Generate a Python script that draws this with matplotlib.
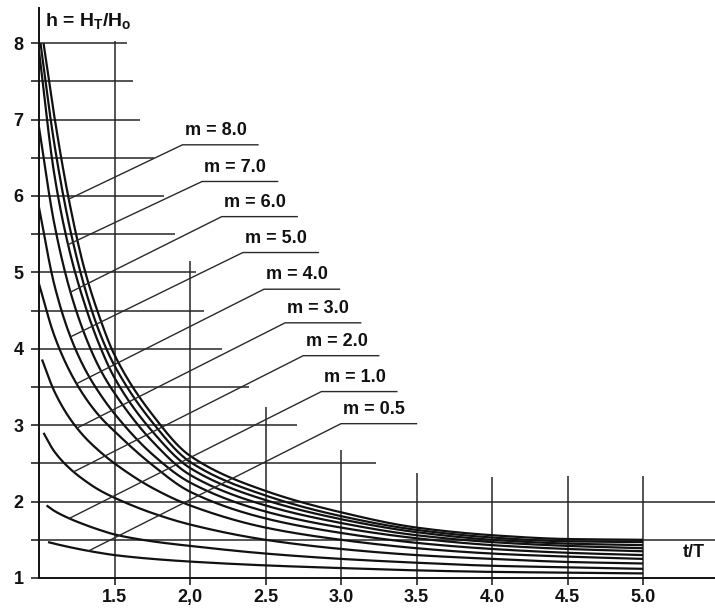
import numpy as np
import matplotlib
matplotlib.use("Agg")
import matplotlib.pyplot as plt

plt.rcParams['font.family'] = ['Liberation Sans', 'DejaVu Sans']
plt.rcParams['font.weight'] = 'bold'
plt.rcParams['mathtext.fontset'] = 'custom'
plt.rcParams['mathtext.rm'] = 'Liberation Sans:bold'
plt.rcParams['mathtext.bf'] = 'Liberation Sans:bold'

# t/T sample points shared by all curves (after each curve's own start point)
t_common = [1.1, 1.2, 1.3, 1.4, 1.5, 1.75, 2.0, 2.5, 3.0, 3.5, 4.0, 4.5, 5.0]

# start points (t, h) where each curve enters the chart
start_t = [1.06, 1.05, 1.03, 1.02, 1.0, 1.0, 1.0, 1.0, 1.01, 1.03]
start_h = [1.47, 1.95, 2.90, 3.86, 4.85, 5.85, 6.90, 7.90, 8.00, 8.00]

h_m05 = [1.45, 1.405, 1.365, 1.33, 1.30, 1.25, 1.215, 1.165, 1.13, 1.10, 1.08, 1.07, 1.06]
h_m1 = [1.88, 1.78, 1.70, 1.63, 1.57, 1.48, 1.42, 1.32, 1.25, 1.20, 1.16, 1.14, 1.12]
h_m2 = [2.66, 2.44, 2.28, 2.15, 2.05, 1.85, 1.70, 1.50, 1.38, 1.30, 1.25, 1.21, 1.19]
h_m3 = [3.45, 3.10, 2.85, 2.66, 2.50, 2.18, 1.95, 1.66, 1.50, 1.39, 1.32, 1.28, 1.25]
h_m4 = [4.18, 3.72, 3.38, 3.12, 2.92, 2.48, 2.13, 1.78, 1.59, 1.46, 1.38, 1.33, 1.30]
h_m5 = [4.85, 4.20, 3.75, 3.42, 3.15, 2.62, 2.25, 1.87, 1.66, 1.52, 1.43, 1.38, 1.35]
h_m6 = [5.65, 4.80, 4.20, 3.75, 3.42, 2.79, 2.35, 1.95, 1.72, 1.56, 1.47, 1.42, 1.39]
h_m7 = [6.30, 5.30, 4.60, 4.05, 3.62, 2.92, 2.44, 2.02, 1.77, 1.60, 1.50, 1.45, 1.43]
h_mx = [6.70, 5.62, 4.82, 4.22, 3.78, 3.04, 2.52, 2.08, 1.81, 1.63, 1.53, 1.48, 1.47]
h_m8 = [7.06, 5.93, 5.05, 4.42, 3.92, 3.14, 2.60, 2.14, 1.86, 1.66, 1.56, 1.51, 1.50]
curves = [h_m05, h_m1, h_m2, h_m3, h_m4, h_m5, h_m6, h_m7, h_mx, h_m8]

# labels: text, left end of label line (t, h), curve the leader points to
label_text = ["8.0", "7.0", "6.0", "5.0", "4.0", "3.0", "2.0", "1.0", "0.5"]
label_t0 = [1.95, 2.08, 2.21, 2.35, 2.49, 2.63, 2.75, 2.87, 3.00]
label_h = [6.67, 6.19, 5.73, 5.26, 4.78, 4.34, 3.91, 3.44, 3.02]
label_curve = [9, 7, 6, 5, 4, 3, 2, 1, 0]

# irregular grid of the original drawing
hgrid_levels = [1.5, 2.0, 2.5, 3.0, 3.5, 4.0, 4.5, 5.0, 5.5, 6.0, 6.5, 7.0, 7.5, 8.0]
hgrid_ends = [5.6, 5.6, 3.23, 2.71, 2.39, 2.21, 2.09, 2.04, 1.90, 1.83, 1.76, 1.67, 1.62, 1.58]
vgrid_pos = [1.5, 2.0, 2.5, 3.0, 3.5, 4.0, 4.5, 5.0]
vgrid_tops = [8.03, 5.15, 3.24, 2.68, 2.38, 2.32, 2.33, 2.33]

xtick_pos = [1.5, 2.0, 2.5, 3.0, 3.5, 4.0, 4.5, 5.0]
xtick_labels = ["1.5", "2,0", "2.5", "3.0", "3.5", "4.0", "4.5", "5.0"]
ytick_pos = [1, 2, 3, 4, 5, 6, 7, 8]


def pchip(x, y, xn):
    x = np.asarray(x, float)
    y = np.asarray(y, float)
    hk = np.diff(x)
    d = np.diff(y) / hk
    m = np.zeros_like(y)
    m[0], m[-1] = d[0], d[-1]
    for k in range(1, len(x) - 1):
        if d[k - 1] * d[k] > 0:
            w1 = 2 * hk[k] + hk[k - 1]
            w2 = hk[k] + 2 * hk[k - 1]
            m[k] = (w1 + w2) / (w1 / d[k - 1] + w2 / d[k])
    i = np.clip(np.searchsorted(x, xn) - 1, 0, len(hk) - 1)
    s = (xn - x[i]) / hk[i]
    h00 = 2 * s**3 - 3 * s**2 + 1
    h10 = s**3 - 2 * s**2 + s
    h01 = -2 * s**3 + 3 * s**2
    h11 = s**3 - s**2
    return h00 * y[i] + h10 * hk[i] * m[i] + h01 * y[i + 1] + h11 * hk[i] * m[i + 1]


ink = '#111111'
fig = plt.figure(figsize=(7.15, 6.1), dpi=100)
ax = fig.add_axes([39 / 715, 32 / 610, 676 / 715, 570 / 610])
ax.set_xlim(1.0, 1 + 676 / 151)
ax.set_ylim(1.0, 1 + 570 / 76.4)

for s in ['top', 'right']:
    ax.spines[s].set_visible(False)
for s in ['left', 'bottom']:
    ax.spines[s].set_linewidth(1.4)
    ax.spines[s].set_color(ink)

ax.hlines(hgrid_levels, 1.0, hgrid_ends, colors='#262626', lw=1.1)
ax.vlines(vgrid_pos, 1.0, vgrid_tops, colors='#262626', lw=1.1)

dense = []
for st, sh, hv in zip(start_t, start_h, curves):
    tt = [st] + t_common
    hh = [sh] + hv
    tn = np.linspace(st, 5.0, 500)
    hn = pchip(tt, hh, tn)
    dense.append((tn, hn))
    ax.plot(tn, hn, color=ink, lw=1.6, solid_capstyle='butt')

for txt, t0, hl, ci in zip(label_text, label_t0, label_h, label_curve):
    tn, hn = dense[ci]
    diff = (hl - (t0 - tn)) - hn
    hit = np.where(diff <= 0)[0]
    k = hit[-1] if len(hit) else 0
    ax.plot([tn[k], t0, t0 + 0.5], [hn[k], hl, hl], color='#2a2a2a', lw=1.0)
    ax.text(t0 + 0.015, hl + 0.13, f"m = {txt}", fontsize=13,
            ha='left', va='baseline', color=ink)

ax.set_xticks(xtick_pos, xtick_labels)
ax.set_yticks(ytick_pos, [str(v) for v in ytick_pos])
ax.set_yticks(hgrid_levels[::2], minor=True)
ax.tick_params(axis='x', length=5, width=1.1, pad=3, labelsize=13, colors=ink)
ax.tick_params(axis='y', which='both', length=6, width=1.1, pad=5,
               labelsize=13, colors=ink)

ax.text(1.04, 8.28, r"h = H$_\mathrm{T}$/H$_\mathrm{o}$", fontsize=14,
        ha='left', va='center', color=ink, clip_on=False)
ax.text(5.265, 1.34, "t/T", fontsize=13, ha='left', va='center', color=ink,
        clip_on=False)

fig.savefig("out.png", dpi=100)
